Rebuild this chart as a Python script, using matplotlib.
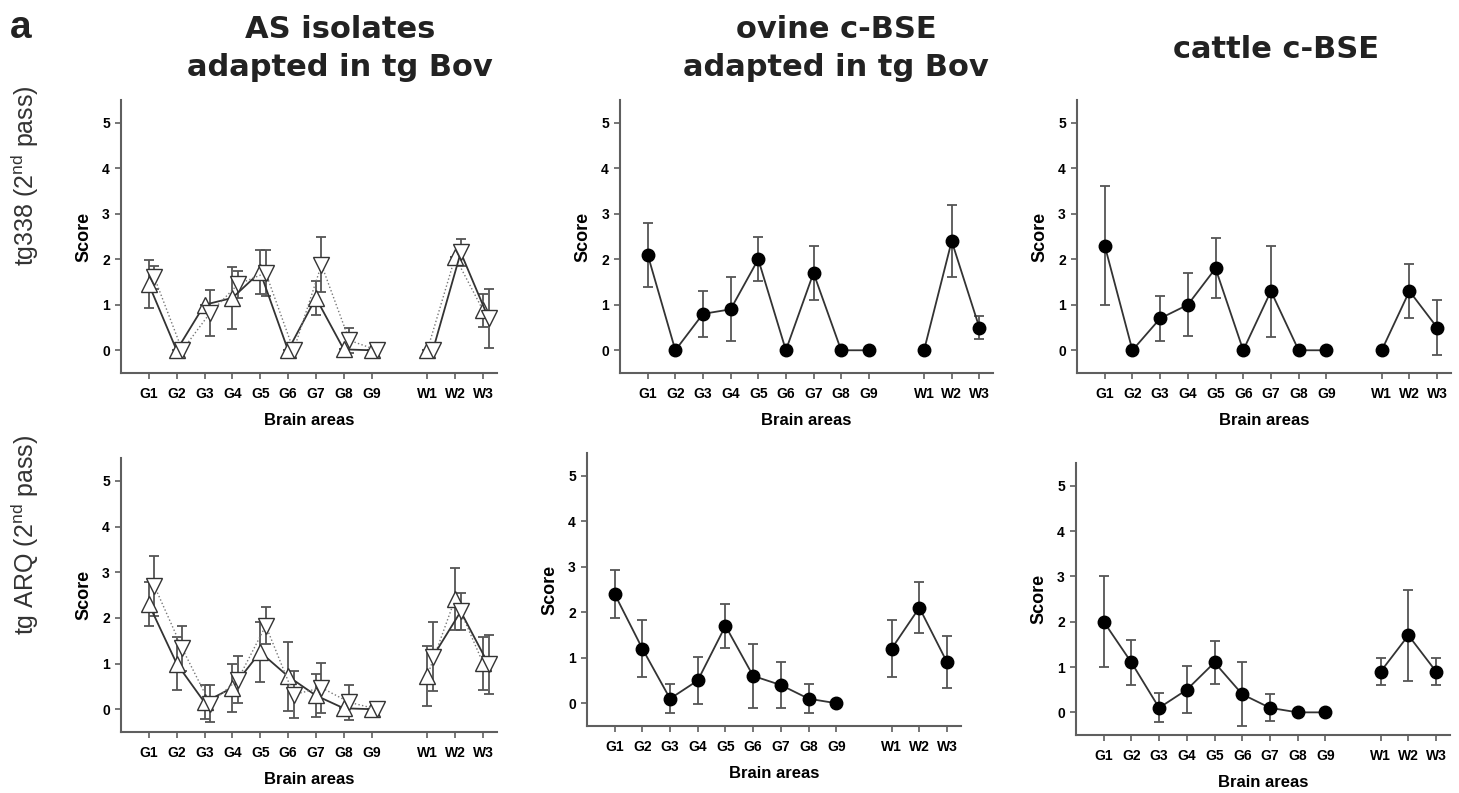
import matplotlib
matplotlib.use('Agg')
import matplotlib.pyplot as plt
import numpy as np

plt.rcParams['font.family'] = ['Liberation Sans', 'DejaVu Sans']
plt.rcParams['mathtext.default'] = 'regular'

# brain areas (grey matter G1-G9, white matter W1-W3)
areas = ['G1', 'G2', 'G3', 'G4', 'G5', 'G6', 'G7', 'G8', 'G9', 'W1', 'W2', 'W3']

# AS isolates adapted in tg Bov -> two isolates (up / down triangles)
as_tg338_up = [1.45, 0, 1.0, 1.15, 1.72, 0, 1.15, 0.02, 0, 0, 2.05, 0.88]
as_tg338_up_err = [0.53, 0, 0, 0.69, 0.49, 0, 0.37, 0, 0, 0, 0, 0.36]
as_tg338_down = [1.6, 0, 0.82, 1.45, 1.7, 0, 1.88, 0.22, 0, 0, 2.15, 0.7]
as_tg338_down_err = [0.25, 0, 0.5, 0.3, 0.5, 0, 0.6, 0.28, 0, 0, 0.3, 0.65]

as_tgarq_up = [2.3, 1.0, 0.15, 0.47, 1.25, 0.72, 0.3, 0.02, 0, 0.73, 2.42, 1.01]
as_tgarq_up_err = [0.48, 0.57, 0.37, 0.53, 0.66, 0.75, 0.48, 0, 0, 0.65, 0.68, 0.58]
as_tgarq_down = [2.7, 1.33, 0.12, 0.65, 1.83, 0.32, 0.47, 0.15, 0, 1.15, 2.14, 0.98]
as_tgarq_down_err = [0.65, 0.5, 0.4, 0.52, 0.41, 0.52, 0.55, 0.38, 0, 0.75, 0.4, 0.64]

# ovine c-BSE adapted in tg Bov
ovine_tg338 = [2.1, 0, 0.8, 0.9, 2.0, 0, 1.7, 0, 0, 0, 2.4, 0.5]
ovine_tg338_err = [0.7, 0, 0.5, 0.7, 0.48, 0, 0.6, 0, 0, 0, 0.8, 0.25]
ovine_tgarq = [2.4, 1.2, 0.1, 0.5, 1.7, 0.6, 0.4, 0.1, 0, 1.2, 2.1, 0.9]
ovine_tgarq_err = [0.52, 0.63, 0.32, 0.52, 0.48, 0.7, 0.51, 0.32, 0, 0.63, 0.56, 0.57]

# cattle c-BSE
cattle_tg338 = [2.3, 0, 0.7, 1.0, 1.8, 0, 1.3, 0, 0, 0, 1.3, 0.5]
cattle_tg338_err = [1.3, 0, 0.5, 0.69, 0.66, 0, 1.0, 0, 0, 0, 0.6, 0.6]
cattle_tgarq = [2.0, 1.1, 0.1, 0.5, 1.1, 0.4, 0.1, 0, 0, 0.9, 1.7, 0.9]
cattle_tgarq_err = [1.0, 0.5, 0.32, 0.52, 0.48, 0.7, 0.3, 0, 0, 0.3, 1.0, 0.3]

col_titles = ['AS isolates\nadapted in tg Bov', 'ovine c-BSE\nadapted in tg Bov', 'cattle c-BSE']
row_titles = ['tg338 (2$^{nd}$ pass)', 'tg ARQ (2$^{nd}$ pass)']

xpos = np.array([1, 2, 3, 4, 5, 6, 7, 8, 9, 11, 12, 13])
g = slice(0, 9)
w = slice(9, 12)

line_col = '#333333'
err_col = '#555555'
axis_col = '#5f5f5f'


def style_axis(ax):
    ax.set_xlim(0, 13.5)
    ax.set_ylim(-0.5, 5.5)
    for s in ['top', 'right']:
        ax.spines[s].set_visible(False)
    for s in ['left', 'bottom']:
        ax.spines[s].set_color(axis_col)
        ax.spines[s].set_linewidth(1.5)
    ax.set_xticks(xpos)
    ax.set_xticklabels(areas, fontsize=10, fontweight='bold')
    ax.set_yticks(range(6))
    ax.set_yticklabels([str(i) for i in range(6)], fontsize=10, fontweight='bold')
    ax.tick_params(axis='both', direction='out', length=4, width=1.2, color=axis_col)
    ax.tick_params(axis='x', pad=6)
    ax.tick_params(axis='y', pad=4)
    ax.set_ylabel('Score', fontsize=13, fontweight='bold', labelpad=7)
    ax.set_xlabel('Brain areas', fontsize=12, fontweight='bold', labelpad=9)


def plot_circles(ax, vals, errs):
    vals = np.array(vals)
    errs = np.array(errs)
    ax.errorbar(xpos, vals, yerr=errs, fmt='none', ecolor=err_col, elinewidth=1.3,
                capsize=3.5, capthick=1.3, zorder=2)
    for seg in [g, w]:
        ax.plot(xpos[seg], vals[seg], color=line_col, lw=1.3, marker='o', ms=9,
                mfc='black', mec='black', zorder=3)
    style_axis(ax)


def plot_triangles(ax, up, up_err, down, down_err):
    up = np.array(up)
    down = np.array(down)
    xd = xpos + 0.2
    ax.errorbar(xpos, up, yerr=up_err, fmt='none', ecolor=err_col, elinewidth=1.3,
                capsize=3.5, capthick=1.3, zorder=2)
    ax.errorbar(xd, down, yerr=down_err, fmt='none', ecolor=err_col, elinewidth=1.3,
                capsize=3.5, capthick=1.3, zorder=2)
    # grey matter: up = solid, down = dotted ; white matter the other way round
    ax.plot(xpos[g], up[g], color=line_col, lw=1.3, ls='-', marker='^', ms=11,
            mfc='white', mec=line_col, mew=1.0, zorder=3)
    ax.plot(xd[g], down[g], color='#777777', lw=1.0, ls=':', marker='v', ms=11,
            mfc='white', mec=line_col, mew=1.0, zorder=4)
    ax.plot(xpos[w], up[w], color='#777777', lw=1.0, ls=':', marker='^', ms=11,
            mfc='white', mec=line_col, mew=1.0, zorder=3)
    ax.plot(xd[w], down[w], color=line_col, lw=1.3, ls='-', marker='v', ms=11,
            mfc='white', mec=line_col, mew=1.0, zorder=4)
    style_axis(ax)


fig = plt.figure(figsize=(14.59, 7.93), dpi=100)

ax1 = fig.add_axes([0.0829, 0.5296, 0.2577, 0.3443])
ax2 = fig.add_axes([0.4250, 0.5296, 0.2557, 0.3443])
ax3 = fig.add_axes([0.7382, 0.5296, 0.2563, 0.3443])
ax4 = fig.add_axes([0.0829, 0.0769, 0.2577, 0.3455])
ax5 = fig.add_axes([0.4023, 0.0845, 0.2563, 0.3443])
ax6 = fig.add_axes([0.7375, 0.0731, 0.2563, 0.3430])

plot_triangles(ax1, as_tg338_up, as_tg338_up_err, as_tg338_down, as_tg338_down_err)
plot_circles(ax2, ovine_tg338, ovine_tg338_err)
plot_circles(ax3, cattle_tg338, cattle_tg338_err)
plot_triangles(ax4, as_tgarq_up, as_tgarq_up_err, as_tgarq_down, as_tgarq_down_err)
plot_circles(ax5, ovine_tgarq, ovine_tgarq_err)
plot_circles(ax6, cattle_tgarq, cattle_tgarq_err)

# column titles
title_x = [0.233, 0.573, 0.8746]
title_y = [0.939, 0.939, 0.937]
for tx, ty, t in zip(title_x, title_y, col_titles):
    fig.text(tx, ty, t, ha='center', va='center', fontsize=22, fontweight='bold',
             family='DejaVu Sans', color='#222222', linespacing=1.4)

# row titles
fig.text(0.017, 0.778, row_titles[0], rotation=90, ha='center', va='center',
         fontsize=18, color='#333333')
fig.text(0.017, 0.325, row_titles[1], rotation=90, ha='center', va='center',
         fontsize=18, color='#333333')

fig.text(0.007, 0.988, 'a', ha='left', va='top', fontsize=28, fontweight='bold', color='#222222')

fig.savefig('out.png', dpi=100)
